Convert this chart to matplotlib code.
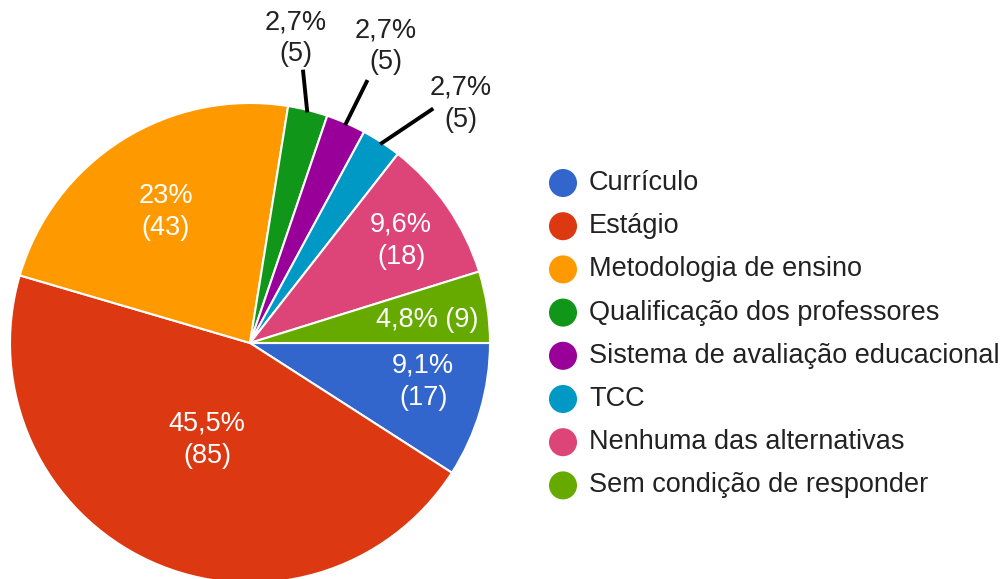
import numpy as np
import matplotlib.pyplot as plt

plt.rcParams["font.family"] = ["Liberation Sans", "DejaVu Sans"]

# -------------------------
# Data
# -------------------------
labels = [
    "Currículo",
    "Estágio",
    "Metodologia de ensino",
    "Qualificação dos professores",
    "Sistema de avaliação educacional",
    "TCC",
    "Nenhuma das alternativas",
    "Sem condição de responder",
]
counts = [17, 85, 43, 5, 5, 5, 18, 9]
pct_text = ["9,1%", "45,5%", "23%", "2,7%", "2,7%", "2,7%", "9,6%", "4,8%"]
colors = ["#3366CC", "#DC3912", "#FF9900", "#109618",
          "#990099", "#0099C6", "#DD4477", "#66AA00"]

# label placement (radius in pie units, angle nudge in degrees)
inside = [True, True, True, False, False, False, True, True]
one_line = [False, False, False, False, False, False, False, True]
label_r = [0.74, 0.44, 0.65, 1.285, 1.36, 1.33, 0.76, 0.745]
label_dang = [3.7, 0.6, 0.4, 5.4, -1.0, -8.2, -0.6, -1.3]
leader_r = [0, 0, 0, 1.16, 1.20, 1.24, 0, 0]
leader_dang = [0, 0, 0, 3.0, -0.5, -4.8, 0, 0]

W, H = 1005, 579
fig = plt.figure(figsize=(W / 100, H / 100), dpi=100)

# pie: center (250, 343) px, radius 240 px
cx, cy, R = 250, 343, 240
ax = fig.add_axes([(cx - R) / W, (H - cy - R) / H, 2 * R / W, 2 * R / H])
wedges, _ = ax.pie(
    counts, colors=colors, startangle=0, counterclock=False, radius=1,
    wedgeprops=dict(edgecolor="white", linewidth=1.5),
)
ax.set_xlim(-1, 1)
ax.set_ylim(-1, 1)
ax.set_aspect("equal")
ax.axis("off")

total = sum(counts)
start = 0.0
for i, c in enumerate(counts):
    span = 360.0 * c / total
    mid = -(start + span / 2)
    start += span
    if one_line[i]:
        txt = f"{pct_text[i]} ({c})"
    else:
        txt = f"{pct_text[i]}\n({c})"
    a = np.deg2rad(mid + label_dang[i])
    tx, ty = label_r[i] * np.cos(a), label_r[i] * np.sin(a)
    if inside[i]:
        ax.text(tx, ty, txt, ha="center", va="center", fontsize=19.5,
                color="white", linespacing=1.3)
    else:
        m = np.deg2rad(mid)
        e = np.deg2rad(mid + leader_dang[i])
        ax.plot([0.99 * np.cos(m), leader_r[i] * np.cos(e)],
                [0.99 * np.sin(m), leader_r[i] * np.sin(e)],
                color="black", lw=2.8, solid_capstyle="butt", clip_on=False)
        ax.text(tx, ty, txt, ha="center", va="center", fontsize=19.5,
                color="#222222", linespacing=1.3, clip_on=False)

# -------------------------
# Legend (drawn in pixel coords)
# -------------------------
lax = fig.add_axes([0, 0, 1, 1], zorder=-1)
lax.set_xlim(0, W)
lax.set_ylim(H, 0)
lax.axis("off")
y0, dy = 183, 43.2
for i, lab in enumerate(labels):
    y = y0 + i * dy
    lax.scatter([563], [y], s=28 ** 2 * 0.52, color=colors[i], edgecolors="none")
    lax.text(589, y, lab, ha="left", va="center", fontsize=19.5, color="#222222")

fig.savefig("out.png", dpi=100)
